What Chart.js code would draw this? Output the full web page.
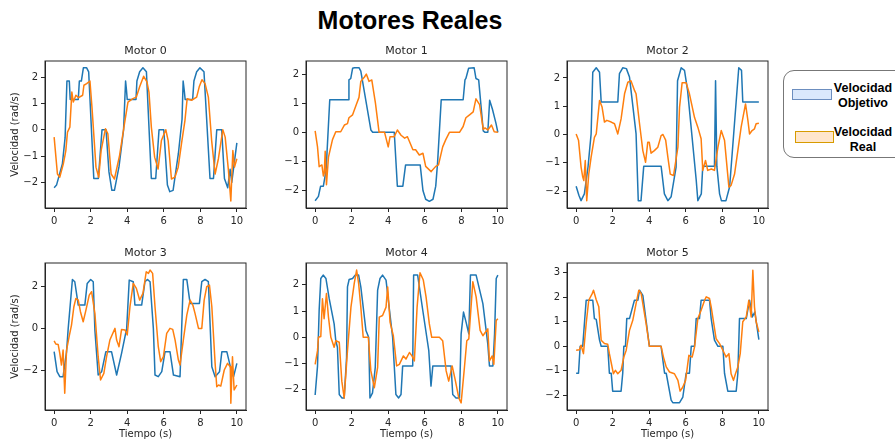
<!DOCTYPE html>
<html>
<head>
<meta charset="utf-8">
<script src="https://cdn.jsdelivr.net/npm/chart.js@4.4.1/dist/chart.umd.min.js"></script>
<style>
  html, body { margin: 0; padding: 0; background: #fff; }
  body { width: 895px; height: 441px; position: relative; overflow: hidden; font-family: "Liberation Sans", Arial, sans-serif; }
  #titulo { position: absolute; left: 0; top: 5px; width: 820px; text-align: center; font-weight: bold; font-size: 25px; line-height: 30px; color: #000; }
  canvas { position: absolute; }
  #leyenda { position: absolute; left: 783px; top: 70px; width: 130px; height: 86px; border: 1px solid #777; border-radius: 11px; background: #fff; }
  .parche { position: absolute; box-sizing: border-box; border: 1px solid; }
  .etq { position: absolute; width: 70px; text-align: center; font-weight: bold; font-size: 12.5px; line-height: 14.5px; color: #000; }
</style>
</head>
<body>
<div id="titulo">Motores Reales</div>
<div id="leyenda">
  <div class="parche" style="left:8px;top:18px;width:40px;height:11px;background:#dae8fc;border-color:#6c8ebf;"></div>
  <div class="etq" style="left:44px;top:10px;">Velocidad<br>Objetivo</div>
  <div class="parche" style="left:11px;top:60px;width:39px;height:12px;background:#ffe6cc;border-color:#d79b00;"></div>
  <div class="etq" style="left:44px;top:54px;">Velocidad<br>Real</div>
</div>
<script>
// ejes comunes
var X_TICKS = [0, 2, 4, 6, 8, 10];
var TITULOS = ['Motor 0', 'Motor 1', 'Motor 2', 'Motor 3', 'Motor 4', 'Motor 5'];

// Motor 0
var m0ObjT = [0, 0.13, 0.45, 0.6, 0.7, 0.83, 0.88, 1.32, 1.38, 1.49, 1.6, 1.78, 1.89, 2.17, 2.42, 2.62, 2.84, 3.0, 3.16, 3.3, 3.55, 3.8, 3.91, 3.96, 4.0, 4.48, 4.53, 4.68, 4.86, 5.05, 5.32, 5.56, 5.74, 6.0, 6.2, 6.33, 6.51, 6.8, 7.0, 7.06, 7.12, 7.17, 7.58, 7.65, 7.8, 7.98, 8.2, 8.53, 8.72, 8.9, 9.17, 9.32, 9.5, 9.63, 9.72, 10];
var m0ObjV = [-2.2, -2.1, -1.3, -0.3, 1.85, 1.85, 1.15, 1.15, 1.85, 1.85, 2.35, 2.35, 2.2, -1.85, -1.85, 0, 0, -1.6, -2.3, -2.3, -1.4, 0, 1.85, 1.5, 1.15, 1.15, 1.85, 2.2, 2.35, 2.2, -1.85, -1.85, 0, 0, -2.1, -2.35, -2.3, -0.9, 0.4, 1.85, 1.5, 1.15, 1.15, 1.85, 2.2, 2.35, 2.2, -1.85, -1.85, 0, 0, -1.85, -2.2, -1.5, -2.0, -0.5];
var m0RealT = [0, 0.18, 0.31, 0.5, 0.59, 0.64, 0.73, 0.86, 0.97, 1.05, 1.19, 1.34, 1.56, 1.63, 1.78, 1.96, 2.07, 2.29, 2.44, 2.57, 2.81, 2.94, 3.12, 3.3, 3.58, 3.85, 4.04, 4.31, 4.5, 4.68, 4.9, 5.08, 5.19, 5.32, 5.5, 5.69, 5.87, 6.11, 6.24, 6.42, 6.61, 6.79, 6.97, 7.16, 7.28, 7.52, 7.8, 7.94, 8.09, 8.26, 8.44, 8.62, 8.81, 8.99, 9.23, 9.36, 9.54, 9.67, 9.78, 9.87, 10];
var m0RealV = [-0.28, -1.68, -1.8, -1.3, -0.98, -0.79, -0.09, 0.1, 1.43, 1.05, 1.31, 1.22, 1.31, 1.69, 1.75, 1.85, 0.86, -1.42, -1.8, -0.79, 0.04, -0.15, -1.68, -1.87, -0.98, 0.23, 1.05, 1.18, 1.24, 1.63, 2.03, 1.82, 1.43, 0.1, -1.04, -1.49, -0.41, 0, -0.41, -1.87, -1.8, -1.42, -0.53, 0.36, 1.18, 1.12, 1.24, 1.63, 1.9, 1.75, 1.24, -0.41, -1.68, -1.1, 0, -0.28, -1.55, -2.7, -0.79, -1.42, -1.1];

// Motor 1
var m1ObjT = [0, 0.18, 0.3, 0.45, 0.6, 0.8, 1.8, 1.85, 1.95, 2.05, 2.15, 2.4, 2.5, 3.05, 3.15, 4.33, 4.5, 4.8, 4.95, 5.75, 5.9, 6.05, 6.25, 6.45, 6.6, 6.7, 6.9, 8.1, 8.2, 8.25, 8.4, 8.7, 8.8, 8.95, 9.2, 9.3, 9.45, 9.55, 9.7, 9.9, 10];
var m1ObjV = [-2.35, -2.2, -1.85, -1.85, -1.3, 1.12, 1.12, 1.8, 1.85, 2.2, 2.22, 2.22, 2.1, 0.08, 0, 0, -1.85, -1.85, -1.12, -1.12, -2.0, -2.3, -2.37, -2.3, -1.85, -1.05, 1.12, 1.12, 1.8, 1.85, 2.2, 2.22, 1.85, 1.8, 0.05, 0, 0, 1.1, 0.8, 0.3, 0];
var m1RealT = [0, 0.13, 0.22, 0.37, 0.45, 0.5, 0.55, 0.62, 0.73, 0.95, 1.13, 1.4, 1.6, 1.77, 1.85, 2.05, 2.25, 2.4, 2.5, 2.7, 2.8, 2.95, 3.1, 3.3, 3.5, 3.8, 3.9, 4.0, 4.1, 4.33, 4.5, 4.7, 4.9, 5.05, 5.15, 5.35, 5.5, 5.7, 5.9, 6.05, 6.35, 6.6, 6.75, 6.98, 7.15, 7.35, 7.6, 7.9, 8.1, 8.25, 8.45, 8.65, 8.8, 9.0, 9.2, 9.3, 9.45, 9.65, 9.8, 10];
var m1RealV = [0.05, -0.5, -1.18, -1.12, -1.5, -1.4, -0.65, -1.8, -0.85, -0.25, 0.02, 0.02, 0.25, 0.3, 0.5, 0.6, 0.95, 1.2, 1.75, 1.9, 2.0, 1.75, 1.8, 1.0, 0, 0, -0.25, -0.5, -0.15, -0.15, 0.08, -0.1, -0.2, -0.15, -0.3, -0.6, -0.6, -0.78, -0.72, -1.17, -1.35, -1.17, -1.12, -0.5, -0.25, 0, 0, 0, 0.2, 0.5, 0.6, 0.7, 1.15, 0.95, 0.1, 0.15, 0.08, 0.25, 0.02, 0];

// Motor 2
var m2ObjT = [0, 0.15, 0.27, 0.45, 0.65, 0.82, 0.91, 1.1, 1.28, 1.37, 2.28, 2.37, 2.55, 2.75, 2.92, 3.28, 3.4, 3.55, 3.7, 4.65, 4.83, 5.02, 5.2, 5.47, 5.55, 5.75, 5.93, 6.1, 6.57, 6.66, 6.85, 6.93, 7.57, 7.63, 7.7, 7.85, 7.95, 8.2, 8.4, 8.9, 9.05, 9.12, 10];
var m2ObjV = [-1.83, -2.15, -2.34, -2.1, -1.15, 0.02, 2.2, 2.36, 2.2, 1.15, 1.15, 2.15, 2.36, 2.33, 2.03, 0.02, -2.34, -2.34, -1.12, -1.12, -2.1, -2.34, -2.2, -1.15, 1.9, 2.36, 2.27, 1.55, -1.6, -2.34, -2.1, -1.12, -1.12, 1.9, -1.12, -2.1, -2.34, -2.34, -1.85, 2.36, 2.27, 1.15, 1.15];
var m2RealT = [0, 0.13, 0.27, 0.36, 0.42, 0.5, 0.58, 0.69, 0.82, 1.0, 1.1, 1.28, 1.42, 1.55, 1.68, 1.92, 2.1, 2.28, 2.46, 2.65, 2.83, 3.0, 3.2, 3.28, 3.47, 3.65, 3.8, 3.92, 4.0, 4.1, 4.28, 4.47, 4.65, 4.75, 4.9, 5.02, 5.15, 5.33, 5.57, 5.66, 5.8, 6.02, 6.2, 6.48, 6.66, 6.84, 6.93, 7.08, 7.2, 7.4, 7.57, 7.76, 7.94, 8.12, 8.36, 8.48, 8.67, 8.85, 9.03, 9.27, 9.4, 9.49, 9.63, 9.76, 9.85, 10];
var m2RealV = [0.02, -0.2, -1.15, -1.5, -1.63, -0.92, -2.34, -1.4, -0.8, -0.1, 0.02, 1.2, 0.97, 0.44, 0.5, 0.44, 0.38, 0.02, 0.55, 1.44, 1.85, 1.9, 1.55, 1.44, 0.38, -0.57, -0.98, -0.27, -0.27, -0.66, -0.57, -0.45, -0.04, 0, -0.2, -0.8, -1.4, -1.45, -0.45, 0.97, 1.83, 1.83, 1.44, 0.6, 0.26, -0.15, -1.27, -0.92, -1.27, -1.22, -1.27, -0.45, 0.14, -0.2, -1.86, -1.8, -1.4, -0.57, 0.26, 1.08, 0.5, 0.02, 0.14, 0.2, 0.38, 0.4];

// Motor 3
var m3ObjT = [0, 0.16, 0.31, 0.49, 0.68, 0.77, 1.0, 1.13, 1.32, 1.68, 1.81, 2.0, 2.14, 2.23, 2.41, 2.6, 2.83, 3.14, 3.42, 3.69, 3.97, 4.11, 4.33, 4.42, 4.79, 4.97, 5.1, 5.25, 5.43, 5.52, 5.7, 5.89, 6.07, 6.34, 6.53, 6.89, 6.98, 7.07, 7.26, 7.44, 7.95, 8.08, 8.26, 8.44, 8.63, 8.81, 9.05, 9.18, 9.45, 9.73, 9.82, 10];
var m3ObjV = [-1.12, -2.08, -2.32, -2.32, -1.12, 0, 2.35, 2.24, 1.12, 1.12, 2.16, 2.35, 2.24, -0.08, -2.24, -2.08, -1.12, -1.12, -2.24, -1.2, 0, 2.32, 2.24, 1.12, 1.12, 2.24, 2.35, 2.24, 0, -2.24, -2.32, -2.08, -1.12, -1.12, -2.24, -2.32, 0, 2.35, 2.35, 1.2, 1.2, 2.24, 2.35, 2.24, -1.84, -2.32, -2.08, -1.12, -1.12, -2.16, -2.32, -1.68];
var m3RealT = [0, 0.09, 0.22, 0.31, 0.4, 0.49, 0.58, 0.68, 0.82, 0.95, 1.08, 1.19, 1.32, 1.44, 1.59, 1.74, 1.92, 2.05, 2.23, 2.41, 2.54, 2.72, 2.87, 3.05, 3.33, 3.42, 3.55, 3.69, 3.88, 4.0, 4.15, 4.33, 4.5, 4.68, 4.86, 5.04, 5.16, 5.25, 5.39, 5.52, 5.7, 5.83, 5.98, 6.16, 6.34, 6.49, 6.62, 6.8, 6.89, 7.07, 7.26, 7.44, 7.59, 7.71, 7.9, 8.08, 8.21, 8.35, 8.5, 8.63, 8.81, 8.9, 9.0, 9.12, 9.31, 9.49, 9.64, 9.67, 9.76, 9.85, 10];
var m3RealV = [-0.6, -0.75, -0.77, -1.2, -1.76, -1.04, -3.12, -1.04, -0.4, 0.16, 1.04, 1.44, 1.36, 0.8, 0.32, 0.88, 1.6, 1.76, 0.72, -1.36, -2.48, -2.16, -1.36, -0.56, 0, -0.56, -0.88, -0.05, -0.08, -0.32, 1.04, 2.16, 1.92, 1.36, 1.68, 2.72, 2.64, 2.8, 2.64, 1.04, -0.88, -1.6, -1.36, -0.24, 0, -0.05, -0.56, -1.52, -1.76, -0.56, 0.64, 1.36, 1.12, 0.72, 0, 0, 1.36, 2.0, 2.08, 1.04, -1.68, -2.8, -2.72, -2.77, -2.0, -1.68, -1.84, -3.6, -1.36, -2.96, -2.72];

// Motor 4
var m4ObjT = [0, 0.13, 0.22, 0.31, 0.44, 0.59, 0.77, 1.04, 1.13, 1.22, 1.32, 1.46, 1.59, 1.72, 1.77, 1.86, 2.05, 2.19, 2.38, 2.5, 2.78, 2.93, 3.0, 3.14, 3.29, 3.42, 3.55, 3.69, 3.88, 4.24, 4.42, 4.57, 4.7, 4.79, 5.34, 5.39, 5.61, 5.89, 6.22, 6.34, 6.44, 7.44, 7.53, 7.71, 7.9, 7.99, 8.12, 8.26, 8.41, 8.5, 8.81, 9.18, 9.45, 9.54, 9.73, 9.82, 9.91, 10];
var m4ObjV = [-2.2, -1.1, 1.03, 2.24, 2.37, 2.24, 1.47, 0.51, -0.13, -0.38, -2.18, -2.31, -2.31, -0.77, 1.92, 2.2, 2.24, 2.37, 2.37, 1.92, 0.26, 0, -2.31, -2.12, -1.15, 1.8, 2.24, 2.37, 2.18, 0, -2.18, -2.31, -2.18, -1.09, -1.09, 2.37, 2.37, 1.03, -0.51, -1.86, -1.09, -1.09, -2.18, -2.31, -2.31, 0.13, 0.96, 0.58, 0.13, 2.37, 2.37, 1.28, -0.26, -1.09, -1.09, 0.13, 2.24, 2.37];
var m4RealT = [0, 0.13, 0.18, 0.31, 0.4, 0.49, 0.62, 0.73, 0.86, 1.04, 1.13, 1.32, 1.46, 1.59, 1.77, 1.96, 2.14, 2.27, 2.38, 2.5, 2.63, 2.91, 3.05, 3.24, 3.42, 3.51, 3.69, 3.88, 3.97, 4.1, 4.28, 4.46, 4.61, 4.83, 4.97, 5.16, 5.3, 5.43, 5.58, 5.74, 5.92, 6.07, 6.25, 6.38, 6.8, 6.98, 7.17, 7.31, 7.5, 7.68, 7.86, 7.99, 8.17, 8.3, 8.41, 8.63, 8.81, 9.03, 9.18, 9.45, 9.54, 9.69, 9.78, 9.91, 10];
var m4RealV = [-1.03, -0.51, 0, 0.03, 1.47, 0.71, 1.67, 0.77, 0, -0.38, -0.13, -0.19, -1.67, -2.31, -0.51, 1.15, 2.05, 2.56, 2.05, 1.15, 0, 0, -1.28, -1.92, -1.15, 0.77, 0.83, 1.15, 1.92, 0.58, 0.06, -1.09, -1.03, -0.71, -0.83, -0.58, -0.71, -0.9, 1.15, 2.46, 2.18, 1.54, 0.51, 0, 0, -0.13, -1.28, -1.67, -1.09, -1.67, -2.31, -2.5, -1.15, -0.13, -0.06, 2.12, 1.54, 0.26, 0.06, 0.32, -0.9, -0.71, -1.03, 0.64, 0.71];

// Motor 5
var m5ObjT = [0, 0.13, 0.22, 0.36, 0.46, 0.55, 0.91, 1.0, 1.1, 1.28, 1.37, 1.73, 1.82, 1.92, 2.0, 2.46, 2.55, 2.61, 2.7, 2.77, 2.92, 3.19, 3.38, 3.47, 3.65, 4.01, 4.65, 4.84, 4.93, 5.2, 5.29, 5.66, 5.84, 6.02, 6.2, 6.3, 6.48, 6.57, 6.75, 6.84, 7.3, 7.39, 7.57, 7.76, 8.03, 8.12, 8.3, 8.76, 8.85, 8.94, 9.31, 9.49, 9.64, 9.78, 10];
var m5ObjV = [-1.1, -1.1, 0, 0, 1.0, 1.88, 1.88, 1.13, 1.1, 0.25, 0, 0, -1.1, -1.1, -1.83, -1.83, -1.1, 0, 0, 1.13, 1.13, 1.88, 1.88, 2.29, 2.08, 0, 0, -1.1, -1.1, -2.2, -2.3, -2.3, -2.07, -1.1, -1.1, 0, 0, 1.13, 1.13, 1.88, 1.88, 1.13, 0.25, 0, 0, -1.1, -1.83, -1.83, -1.1, 1.13, 1.13, 1.88, 1.2, 1.4, 0.27];
var m5RealT = [0, 0.18, 0.27, 0.4, 0.55, 0.69, 0.88, 0.95, 1.1, 1.24, 1.37, 1.55, 1.73, 1.82, 2.04, 2.15, 2.28, 2.46, 2.61, 2.74, 2.92, 3.1, 3.28, 3.43, 3.56, 3.83, 4.01, 4.38, 4.65, 4.78, 4.93, 5.11, 5.38, 5.57, 5.69, 5.84, 5.99, 6.17, 6.35, 6.48, 6.66, 6.84, 7.03, 7.12, 7.3, 7.39, 7.66, 7.85, 8.03, 8.21, 8.36, 8.48, 8.61, 8.72, 8.85, 8.98, 9.12, 9.31, 9.45, 9.58, 9.67, 9.76, 9.85, 10];
var m5RealV = [-0.16, -0.14, 0.04, -0.3, 0.93, 1.88, 2.15, 2.29, 1.9, 1.61, 0.25, 0.11, 0.08, -0.3, -1.12, -0.98, -1.12, -0.98, -0.44, -0.16, 0.65, 1.06, 1.74, 2.29, 2.15, 0.93, 0, 0, 0, -0.44, -0.84, -1.05, -1.12, -1.39, -1.83, -1.66, -1.39, -0.37, -0.44, -0.03, 1.13, 1.47, 1.88, 2.02, 1.95, 1.61, 0.31, 0.11, -0.16, -0.44, -0.3, -1.12, -1.39, -1.12, -0.84, -0.3, 1.0, 1.2, 1.88, 1.2, 3.1, 1.61, 1.0, 0.59];

// y ticks y límites de cada panel
var Y_TICKS = [[-2, -1, 0, 1, 2], [-2, -1, 0, 1, 2], [-2, -1, 0, 1, 2], [-2, 0, 2], [-2, -1, 0, 1, 2], [-2, -1, 0, 1, 2, 3]];
var Y_MIN = [-2.97, -2.6, -2.6, -3.92, -2.77, -2.6];
var Y_MAX = [2.61, 2.45, 2.6, 3.14, 2.83, 3.4];

var SERIES = [
  [m0ObjT, m0ObjV, m0RealT, m0RealV],
  [m1ObjT, m1ObjV, m1RealT, m1RealV],
  [m2ObjT, m2ObjV, m2RealT, m2RealV],
  [m3ObjT, m3ObjV, m3RealT, m3RealV],
  [m4ObjT, m4ObjV, m4RealT, m4RealV],
  [m5ObjT, m5ObjV, m5RealT, m5RealV]
];

var AZUL = '#1f77b4', NARANJA = '#ff7f0e', TINTA = '#262626';
var FUENTE = 'DejaVu Sans';
var COL_X = [45, 306, 567];      // borde izquierdo del área de cada columna
var FILA_Y = [61, 263];          // borde superior del área de cada fila
var ANCHO = 201, ALTO = 147;
var EJE_Y = 40, EJE_X = 32, CAB = 24, DER = 8;

function puntos(ts, vs) {
  return ts.map(function (t, i) { return { x: t, y: vs[i] }; });
}

function fmt(v) {
  return (v < 0 ? '\u2212' : '') + Math.abs(v);
}

// marco completo como en matplotlib
var marco = {
  id: 'marco',
  afterDraw: function (ch) {
    var a = ch.chartArea, c = ch.ctx;
    c.save();
    c.strokeStyle = TINTA;
    c.lineWidth = 1;
    c.strokeRect(a.left, a.top, a.right - a.left, a.bottom - a.top);
    c.restore();
  }
};

function panel(i) {
  var col = i % 3, fila = Math.floor(i / 3);
  var cv = document.createElement('canvas');
  var w = EJE_Y + ANCHO + DER, h = CAB + ALTO + EJE_X;
  cv.width = w; cv.height = h;
  cv.style.left = (COL_X[col] - EJE_Y) + 'px';
  cv.style.top = (FILA_Y[fila] - CAB) + 'px';
  cv.style.width = w + 'px'; cv.style.height = h + 'px';
  document.body.appendChild(cv);

  var s = SERIES[i];
  var ticksFont = { family: FUENTE, size: 10 };
  var linea = { borderWidth: 1.5, pointRadius: 0, tension: 0, borderJoinStyle: 'round' };
  new Chart(cv.getContext('2d'), {
    type: 'line',
    data: {
      datasets: [
        Object.assign({ label: 'Velocidad Objetivo', data: puntos(s[0], s[1]), borderColor: AZUL, order: 1 }, linea),
        Object.assign({ label: 'Velocidad Real', data: puntos(s[2], s[3]), borderColor: NARANJA, order: 0 }, linea)
      ]
    },
    options: {
      responsive: false, animation: false,
      layout: { padding: { left: 0, right: DER, top: 0, bottom: 0 } },
      plugins: {
        legend: { display: false }, tooltip: { enabled: false },
        title: { display: true, fullSize: false, text: TITULOS[i], color: TINTA,
          font: { family: FUENTE, size: 11, weight: 'normal' }, padding: { top: 7.3, bottom: 3.5 } }
      },
      scales: {
        x: {
          type: 'linear', min: -0.5, max: 10.5,
          afterBuildTicks: function (sc) { sc.ticks = X_TICKS.map(function (v) { return { value: v }; }); },
          afterFit: function (sc) { sc.height = EJE_X; },
          grid: { drawOnChartArea: false, drawTicks: true, tickLength: 4, color: TINTA },
          border: { color: TINTA },
          ticks: { font: ticksFont, color: TINTA, padding: 3, maxRotation: 0, autoSkip: false, callback: fmt },
          title: { display: fila === 1, text: 'Tiempo (s)', color: TINTA, font: ticksFont, padding: { top: 0, bottom: 2 } }
        },
        y: {
          type: 'linear', min: Y_MIN[i], max: Y_MAX[i],
          afterBuildTicks: function (sc) { sc.ticks = Y_TICKS[i].map(function (v) { return { value: v }; }); },
          afterFit: function (sc) { sc.width = EJE_Y; },
          grid: { drawOnChartArea: false, drawTicks: true, tickLength: 4, color: TINTA },
          border: { color: TINTA },
          ticks: { font: ticksFont, color: TINTA, padding: 3, autoSkip: false, callback: fmt },
          title: { display: col === 0, text: 'Velocidad (rad/s)', color: TINTA, font: ticksFont, padding: { top: 4, bottom: 0 } }
        }
      }
    },
    plugins: [marco]
  });
}

for (var i = 0; i < 6; i++) panel(i);
</script>
</body>
</html>
